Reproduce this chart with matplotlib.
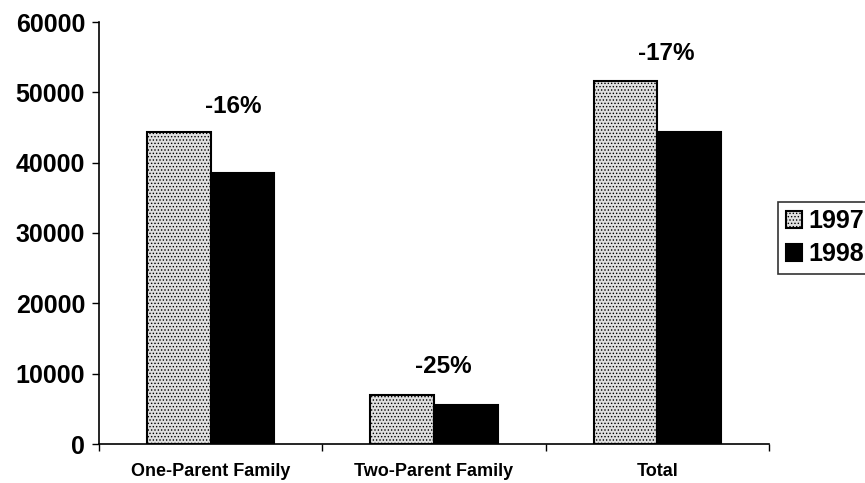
import numpy as np
import matplotlib.pyplot as plt

plt.rcParams['font.family'] = ['Liberation Sans', 'DejaVu Sans']
plt.rcParams['font.weight'] = 'bold'
plt.rcParams['hatch.color'] = '#555555'
plt.rcParams['hatch.linewidth'] = 0.6

categories = ['One-Parent Family', 'Two-Parent Family', 'Total']
cases_1997 = [44400, 7000, 51600]
cases_1998 = [38500, 5550, 44300]
pct_change = ['-16%', '-25%', '-17%']
yticks = [0, 10000, 20000, 30000, 40000, 50000, 60000]

fig = plt.figure(figsize=(8.65, 4.83), dpi=100)
ax = fig.add_axes([99 / 865, 1 - 444 / 483, 670 / 865, 422 / 483])

x = np.arange(len(categories))
w = 0.285
ax.bar(x - w / 2, cases_1997, w, facecolor='#e0e0e0', edgecolor='black',
       linewidth=1.5, hatch='.....', label='1997')
ax.bar(x + w / 2, cases_1998, w, facecolor='black', edgecolor='black',
       linewidth=1.5, label='1998')

for i, lab in enumerate(pct_change):
    top = max(cases_1997[i], cases_1998[i])
    dx = 0.1 if i == 0 else 0.04
    dy = 18 if i == 0 else 20
    ax.annotate(lab, (i + dx, top), xytext=(0, dy), textcoords='offset points',
                ha='center', va='center', fontsize=17.5, fontweight='bold')

ax.set_xlim(-0.5, 2.5)
ax.set_ylim(0, 60000)
ax.set_yticks(yticks)
ax.set_yticklabels([str(v) for v in yticks], fontsize=18, fontweight='bold')
ax.set_xticks(x)
ax.set_xticklabels(categories, fontsize=13, fontweight='bold')
ax.tick_params(axis='x', length=0, pad=14)
ax.set_xticks([-0.5, 0.5, 1.5, 2.5], minor=True)
ax.tick_params(axis='x', which='minor', length=5, width=1, direction='out')
ax.tick_params(axis='y', length=5, width=1, direction='out', pad=5)

for s in ['top', 'right']:
    ax.spines[s].set_visible(False)
for s in ['left', 'bottom']:
    ax.spines[s].set_linewidth(1.2)

leg = fig.legend(loc='upper left', bbox_to_anchor=(778 / 865, 1 - 202 / 483),
                 fontsize=18, frameon=True, fancybox=False, handlelength=0.65,
                 handleheight=0.65, handletextpad=0.25, borderpad=0.3,
                 labelspacing=0.35, borderaxespad=0)
leg.get_frame().set_edgecolor('black')
leg.get_frame().set_linewidth(1.2)
for t in leg.get_texts():
    t.set_fontweight('bold')

fig.savefig('out.png', dpi=100)
